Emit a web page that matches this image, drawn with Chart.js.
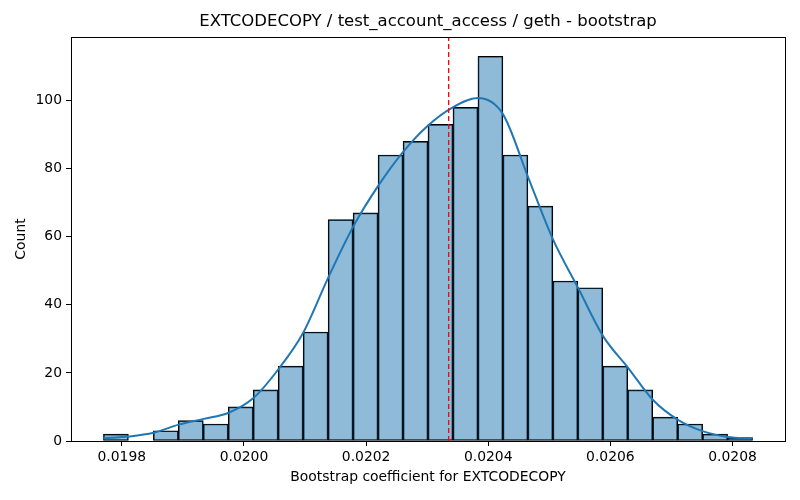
<!DOCTYPE html>
<html>
<head>
<meta charset="utf-8">
<script src="https://cdn.jsdelivr.net/npm/chart.js@4.4.1/dist/chart.umd.min.js"></script>
<style>
  html, body { margin: 0; padding: 0; background: #fff; }
  #wrap { width: 800px; height: 500px; }
</style>
</head>
<body>
<div id="wrap"><canvas id="hist" width="800" height="500"></canvas></div>
<script>
// histogram bins
const binStart = 0.01976991;
const binWidth = 0.00004088;
const counts = [2, 0, 3, 6, 5, 10, 15, 22, 32, 65, 67, 84, 88, 93, 98, 113, 84, 69, 47, 45, 22, 15, 7, 5, 2, 1];

// kde curve, sampled at the bin edges
const kdeX = [0.019770, 0.019811, 0.019852, 0.019893, 0.019934, 0.019975, 0.020016, 0.020056, 0.020097,
  0.020138, 0.020179, 0.020220, 0.020261, 0.020301, 0.020342, 0.020383, 0.020424, 0.020465, 0.020506,
  0.020547, 0.020588, 0.020629, 0.020669, 0.020710, 0.020751, 0.020792, 0.020833];
const kdeY = [0.8, 1.3, 2.4, 4.8, 6.5, 8.3, 12.7, 21, 31.8, 48, 63, 75, 85, 92.6, 98, 100.7, 96, 77.6, 59.2,
  45, 30.8, 21.5, 12.2, 6.3, 2.9, 1.2, 0.8];

// dashed marker
const markerX = 0.0203352;

const xTicks = [0.0198, 0.0200, 0.0202, 0.0204, 0.0206, 0.0208];
const yTicks = [0, 20, 40, 60, 80, 100];
const xMin = 0.0197168, xMax = 0.0208859;
const yMax = 118.65;

const barData = counts.map((c, i) => ({ x: binStart + (i + 0.5) * binWidth, y: c }));
const kdeData = kdeX.map((x, i) => ({ x: x, y: kdeY[i] }));

const FONT = 'DejaVu Sans';

// frame round the plot area
const frame = {
  id: 'frame',
  afterDatasetsDraw(chart) {
    const { ctx, chartArea: a } = chart;
    ctx.save();
    ctx.strokeStyle = '#000';
    ctx.lineWidth = 1;
    ctx.strokeRect(a.left + 0.5, a.top + 0.5, a.right - a.left, a.bottom - a.top);
    ctx.restore();
  }
};

new Chart(document.getElementById('hist'), {
  type: 'bar',
  data: {
    datasets: [
      {
        type: 'line',
        xAxisID: 'x',
        yAxisID: 'y',
        data: [{ x: markerX, y: 0 }, { x: markerX, y: yMax }],
        borderColor: '#ff0000',
        borderWidth: 1.3,
        borderDash: [5, 3],
        pointRadius: 0,
        fill: false,
        order: 1
      },
      {
        type: 'line',
        xAxisID: 'x',
        yAxisID: 'y',
        data: kdeData,
        borderColor: '#1f77b4',
        borderWidth: 2,
        pointRadius: 0,
        cubicInterpolationMode: 'monotone',
        fill: false,
        order: 2
      },
      {
        type: 'bar',
        xAxisID: 'x',
        yAxisID: 'y',
        data: barData,
        backgroundColor: 'rgba(31,119,180,0.5)',
        borderColor: '#000',
        borderWidth: 1,
        borderSkipped: false,
        barPercentage: 1,
        categoryPercentage: 1,
        grouped: false,
        order: 3
      }
    ]
  },
  options: {
    responsive: false,
    animation: false,
    devicePixelRatio: 1,
    events: [],
    layout: { padding: { left: 0, right: 15, top: 0, bottom: 0 } },
    plugins: {
      legend: { display: false },
      tooltip: { enabled: false },
      title: { display: false }
    },
    scales: {
      x: {
        type: 'linear',
        position: 'bottom',
        offset: false,
        min: xMin,
        max: xMax,
        afterBuildTicks: s => { s.ticks = xTicks.map(v => ({ value: v })); },
        afterFit: s => { s.height = 59; },
        grid: { display: true, drawOnChartArea: false, drawTicks: true, tickLength: 5, color: '#000', offset: false },
        border: { display: true, color: '#000', width: 1 },
        ticks: {
          color: '#000',
          padding: 3,
          maxRotation: 0,
          font: { family: FONT, size: 13.9 },
          callback: v => v.toFixed(4)
        },
        title: {
          display: true,
          text: 'Bootstrap coefficient for EXTCODECOPY',
          color: '#000',
          font: { family: FONT, size: 13.9 },
          padding: { top: 0, bottom: 14.5 }
        }
      },
      // top axis only carries the chart title, centred over the plot area
      top: {
        type: 'linear',
        position: 'top',
        offset: false,
        min: xMin,
        max: xMax,
        afterFit: s => { s.height = 37; },
        grid: { display: false },
        border: { display: false },
        ticks: { display: false },
        title: {
          display: true,
          text: 'EXTCODECOPY / test_account_access / geth - bootstrap',
          color: '#000',
          font: { family: FONT, size: 16.5, weight: 'normal' },
          padding: { top: 12, bottom: 0 }
        }
      },
      y: {
        type: 'linear',
        min: 0,
        max: yMax,
        afterBuildTicks: s => { s.ticks = yTicks.map(v => ({ value: v })); },
        afterFit: s => { s.width = 71; },
        grid: { display: true, drawOnChartArea: false, drawTicks: true, tickLength: 5, color: '#000' },
        border: { display: true, color: '#000', width: 1 },
        ticks: {
          color: '#000',
          padding: 4,
          font: { family: FONT, size: 13.9 }
        },
        title: {
          display: true,
          text: 'Count',
          color: '#000',
          font: { family: FONT, size: 13.9 },
          padding: { top: 13.5, bottom: 0 }
        }
      }
    }
  },
  plugins: [frame]
});
</script>
</body>
</html>
